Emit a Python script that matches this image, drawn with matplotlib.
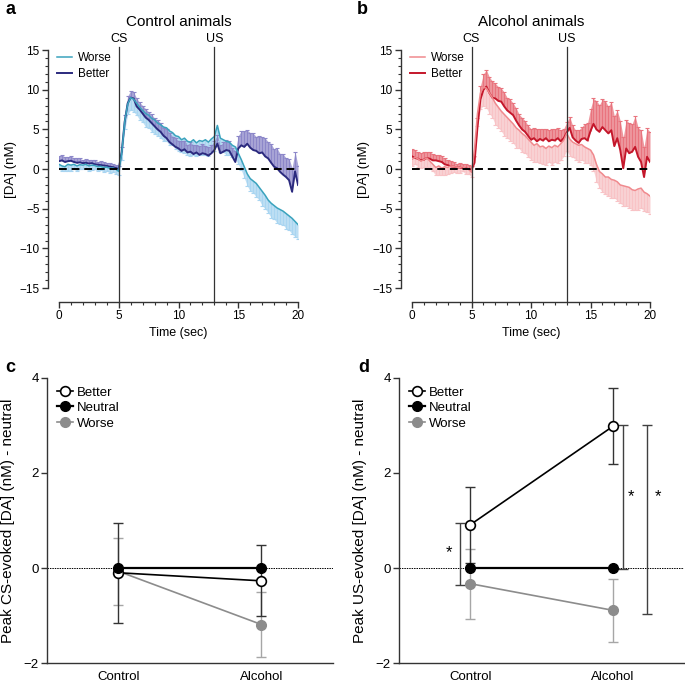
"""
Dopamine traces (Control / Alcohol animals) and peak CS / US evoked [DA]
relative to neutral trials.
"""

import numpy as np
import matplotlib
matplotlib.use("Agg")
import matplotlib.pyplot as plt

plt.rcParams["font.family"] = ["Liberation Sans", "DejaVu Sans"]

# ---- time course data (0.25 s bins, 0..20 s) ----
t = np.arange(81) * 0.25

ctrl_worse = [
    0.6, 0.4, 0.3, 0.6, 0.5, 0.6, 0.4, 0.55, 0.5, 0.6,
    0.4, 0.5, 0.45, 0.3, 0.35, 0.2, 0.25, 0.1, 0.15, 0.0,
    -0.3, 2.0, 6.0, 8.2, 9.0, 8.8, 8.3, 7.8, 7.4, 7.0,
    6.8, 6.4, 6.2, 5.8, 5.6, 5.3, 5.2, 4.8, 4.6, 4.2,
    4.1, 3.7, 3.9, 3.5, 3.4, 3.7, 3.3, 3.6, 3.5, 3.7,
    3.4, 3.8, 4.1, 5.5, 3.9, 3.7, 3.5, 3.4, 3.0, 2.8,
    2.0, 1.2, 0.3, -0.6, -1.2, -1.5, -1.8, -2.3, -2.8, -3.3,
    -3.9, -4.3, -4.6, -4.9, -5.1, -5.3, -5.6, -5.9, -6.2, -6.6,
    -7.0]
ctrl_worse_err = [
    0.6, 0.7, 0.6, 0.8, 0.7, 0.6, 0.7, 0.6, 0.5, 0.6,
    0.7, 0.6, 0.5, 0.6, 0.5, 0.6, 0.5, 0.6, 0.5, 0.6,
    0.5, 0.8, 1.0, 1.3, 1.5, 1.6, 1.5, 1.6, 1.5, 1.7,
    1.6, 1.7, 1.8, 1.6, 1.7, 1.8, 1.7, 1.8, 1.6, 1.7,
    1.8, 1.6, 1.9, 1.7, 1.8, 1.9, 1.7, 1.8, 1.7, 1.9,
    1.8, 1.7, 1.8, 1.9, 1.7, 1.6, 1.7, 1.6, 1.5, 1.5,
    1.4, 1.3, 1.4, 1.5, 1.6, 1.5, 1.7, 1.6, 1.8, 1.7,
    1.6, 1.8, 1.7, 1.9, 1.8, 1.7, 1.9, 1.8, 2.0, 1.9,
    1.8]
ctrl_better = [
    1.0, 1.1, 0.9, 1.0, 1.05, 0.9, 0.8, 0.85, 0.75, 0.8,
    0.7, 0.75, 0.6, 0.55, 0.5, 0.45, 0.4, 0.3, 0.25, 0.15,
    0.0, 2.2, 6.0, 8.3, 9.0, 8.9, 7.9, 7.5, 7.0, 6.5,
    6.2, 5.8, 5.4, 5.0, 4.7, 4.2, 3.9, 3.4, 3.1, 2.8,
    2.6, 2.3, 2.5, 2.1, 2.2, 1.9, 2.1, 1.8, 2.0, 1.9,
    1.7, 2.0, 2.4, 3.2, 2.0, 2.2, 2.4, 2.3, 1.6, 0.9,
    2.6, 3.0, 2.8, 3.2, 2.7, 2.4, 2.3, 2.0, 2.1, 1.6,
    1.35, 0.8, 0.3, 0.1, -0.35, -0.7, -1.0, -1.4, -2.85, -0.3,
    -2.0]
ctrl_better_err = [
    0.6, 0.7, 0.6, 0.5, 0.6, 0.5, 0.6, 0.5, 0.4, 0.5,
    0.5, 0.4, 0.5, 0.4, 0.5, 0.4, 0.4, 0.5, 0.4, 0.4,
    0.4, 0.6, 0.8, 0.9, 0.9, 0.8, 1.0, 0.9, 1.0, 1.1,
    1.0, 1.1, 1.0, 1.2, 1.1, 1.0, 1.1, 1.2, 1.0, 1.1,
    1.0, 1.2, 1.1, 1.0, 1.2, 1.1, 1.0, 1.1, 1.2, 1.0,
    1.1, 1.0, 1.2, 1.1, 1.0, 1.2, 1.3, 1.2, 1.1, 1.4,
    1.6, 1.8, 2.0, 1.7, 1.9, 2.1, 1.8, 2.2, 2.0, 2.3,
    2.1, 2.4, 2.2, 2.5, 2.3, 2.6, 2.4, 2.7, 3.0, 2.5,
    2.4]

alc_worse = [
    1.2, 1.5, 1.3, 1.0, 1.2, 1.4, 1.0, 0.6, 0.2, 0.4,
    0.1, 0.3, 0.2, 0.4, 0.3, 0.25, 0.2, 0.3, 0.1, 0.0,
    -0.4, 2.5, 7.0, 9.6, 10.3, 10.2, 9.6, 9.0, 8.3, 7.8,
    7.3, 6.9, 6.5, 6.1, 5.7, 5.2, 4.9, 4.5, 4.2, 3.8,
    3.4, 3.0, 3.2, 2.8, 2.9, 2.6, 2.9, 2.7, 3.0, 2.8,
    3.2, 3.6, 4.5, 3.8, 3.4, 3.2, 3.0, 3.1, 2.8, 2.6,
    2.4, 1.8, 0.6, -0.3, -0.6, -1.0, -1.0, -1.3, -1.4, -1.6,
    -2.0, -2.1, -2.2, -2.3, -2.6, -2.7, -2.5, -2.4, -2.9, -3.1,
    -3.4]
alc_worse_err = [
    0.8, 0.9, 1.0, 0.8, 0.9, 1.1, 1.0, 0.9, 1.0, 1.1,
    0.9, 1.0, 0.8, 0.9, 0.7, 0.8, 0.7, 0.6, 0.7, 0.6,
    0.6, 1.0, 1.6, 2.0, 2.3, 2.5, 2.6, 2.5, 2.7, 2.6,
    2.5, 2.7, 2.6, 2.5, 2.4, 2.5, 2.3, 2.4, 2.2, 2.3,
    2.2, 2.1, 2.3, 2.0, 2.2, 2.1, 2.0, 2.2, 2.1, 2.0,
    2.1, 2.0, 2.2, 2.1, 1.9, 2.0, 2.1, 1.9, 2.0, 1.8,
    1.9, 2.0, 2.2, 2.1, 2.3, 2.2, 2.4, 2.3, 2.2, 2.4,
    2.3, 2.5, 2.4, 2.6, 2.5, 2.4, 2.6, 2.5, 2.4, 2.3,
    2.2]
alc_better = [
    1.6, 1.4, 1.3, 1.1, 1.2, 1.4, 1.3, 1.1, 1.1, 1.0,
    0.9, 0.6, 0.5, 0.35, 0.3, 0.2, 0.2, 0.15, 0.1, 0.0,
    -0.1, 0.8, 5.3, 8.8, 10.0, 10.4, 9.6, 9.0, 8.9, 8.6,
    8.5, 7.9, 7.4, 7.1, 6.8, 6.1, 5.5, 5.0, 4.7, 4.2,
    3.7, 3.9, 3.5, 3.8, 3.6, 3.9, 3.5, 3.7, 3.6, 3.9,
    3.5, 3.9, 4.6, 5.2, 4.0, 3.6, 3.3, 3.8, 3.9, 3.6,
    4.8, 5.7, 5.0, 4.7, 5.3, 4.9, 4.5, 4.9, 2.9, 3.9,
    2.4, 0.1, 2.6, 2.0, 2.2, 2.8, 1.55, 0.9, -1.0, 1.55,
    0.9]
alc_better_err = [
    0.9, 1.0, 0.8, 0.9, 1.0, 0.8, 0.9, 0.8, 0.7, 0.8,
    0.7, 0.8, 0.6, 0.7, 0.6, 0.5, 0.6, 0.5, 0.6, 0.5,
    0.5, 0.8, 1.2, 1.7, 2.0, 2.1, 2.0, 2.1, 1.9, 1.8,
    1.7, 1.8, 1.6, 1.7, 1.5, 1.6, 1.4, 1.5, 1.4, 1.3,
    1.4, 1.3, 1.5, 1.3, 1.4, 1.2, 1.4, 1.3, 1.5, 1.3,
    1.4, 1.2, 1.3, 1.4, 1.5, 1.3, 1.6, 1.5, 1.8, 2.2,
    2.8, 3.2, 3.6, 3.4, 3.5, 3.7, 3.4, 3.6, 3.8, 3.5,
    3.7, 3.9, 3.6, 3.8, 3.5, 3.9, 3.7, 4.0, 3.8, 3.6,
    3.8]

cs_time = 5
us_time = 13

# ---- peak evoked [DA] minus neutral ----
groups = ["Control", "Alcohol"]
cs_better = [-0.10, -0.27]
cs_better_sem = [1.05, 0.75]
cs_neutral = [0.0, 0.0]
cs_worse = [-0.07, -1.19]
cs_worse_sem = [0.70, 0.69]

us_better = [0.91, 2.98]
us_better_sem = [0.80, 0.80]
us_neutral = [0.0, 0.0]
us_worse = [-0.33, -0.89]
us_worse_sem = [0.74, 0.66]

# significance brackets on panel d (x position, low, high)
sig_x = [-0.07, 1.07, 1.24]
sig_lo = [-0.35, -0.02, -0.96]
sig_hi = [0.95, 3.02, 3.02]
star_x = [-0.15, 1.13, 1.32]
star_y = [0.32, 1.5, 1.5]

AXIS_COLOR = "#333333"


def style_trace_axes(ax):
    ax.set_xlim(0, 20)
    ax.set_ylim(-15, 15)
    for side in ["top", "right"]:
        ax.spines[side].set_visible(False)
    ax.spines["left"].set_position(("outward", 8))
    ax.spines["bottom"].set_position(("outward", 10))
    for side in ["left", "bottom"]:
        ax.spines[side].set_color(AXIS_COLOR)
        ax.spines[side].set_linewidth(1.0)
    ax.set_xticks([0, 5, 10, 15, 20])
    ax.set_xticks(np.arange(0, 21, 1), minor=True)
    ax.set_yticks([-15, -10, -5, 0, 5, 10, 15])
    ax.set_yticks(np.arange(-15, 16, 1), minor=True)
    ax.tick_params(which="major", length=4, width=1, color=AXIS_COLOR,
                   labelsize=8.5, pad=2)
    ax.tick_params(which="minor", length=2.5, width=0.8, color=AXIS_COLOR)
    ax.set_xlabel("Time (sec)", fontsize=9, labelpad=3)
    ax.set_ylabel("[DA] (nM)", fontsize=9.5, labelpad=2)


def draw_band(ax, y, err, color, downward):
    y = np.asarray(y)
    err = np.asarray(err)
    tip = y - err if downward else y + err
    ax.fill_between(t, y, tip, color=color, lw=0, alpha=0.75)
    ax.vlines(t, y, tip, color=color, lw=0.8)
    ax.plot(t, tip, ls="none", marker="_", ms=3.5, mew=0.8, color=color)


def trace_panel(ax, worse, worse_err, better, better_err, cols, title):
    worse_line, worse_bar, better_line, better_bar = cols
    draw_band(ax, worse, worse_err, worse_bar, downward=True)
    draw_band(ax, better, better_err, better_bar, downward=False)
    ax.plot(t, better, color=better_line, lw=1.4, label="Better", zorder=4)
    ax.plot(t, worse, color=worse_line, lw=1.1, label="Worse", zorder=5)

    ax.plot([0, 20], [0, 0], color="black", lw=1.4, ls=(0, (4, 2.5)), zorder=6)
    for xv, lab in [(cs_time, "CS"), (us_time, "US")]:
        ax.axvline(xv, ymin=-0.06, ymax=1.015, color=AXIS_COLOR, lw=0.9,
                   clip_on=False, zorder=7)
        ax.annotate(lab, xy=(xv, 1.0), xycoords=("data", "axes fraction"),
                    xytext=(0, 4), textcoords="offset points",
                    ha="center", va="bottom", fontsize=9)
    ax.set_title(title, fontsize=11, pad=17)

    handles, labels = ax.get_legend_handles_labels()
    ax.legend(handles[::-1], labels[::-1], loc="upper left",
              bbox_to_anchor=(-0.02, 1.0), frameon=False, fontsize=8.5,
              handlelength=1.3, handletextpad=0.5, labelspacing=0.3,
              borderaxespad=0.0, borderpad=0.2)
    style_trace_axes(ax)


def peak_panel(ax, better, better_sem, neutral, worse, worse_sem, ylabel):
    x = np.arange(len(groups))
    ax.axhline(0, color="black", lw=0.7, ls=(0, (1.5, 1)), zorder=1)
    ax.errorbar(x, worse, yerr=worse_sem, fmt="none", ecolor="#a6a6a6",
                elinewidth=1.0, capsize=3.5, capthick=1.0, zorder=2)
    ax.errorbar(x, better, yerr=better_sem, fmt="none", ecolor="#333333",
                elinewidth=1.0, capsize=3.5, capthick=1.0, zorder=2)
    ax.plot(x, worse, color="#8c8c8c", lw=1.2, marker="o", ms=7,
            mfc="#8c8c8c", mec="#8c8c8c", label="Worse", zorder=3)
    ax.plot(x, better, color="black", lw=1.2, marker="o", ms=7,
            mfc="white", mec="black", mew=1.2, label="Better", zorder=4)
    ax.plot(x, neutral, color="black", lw=1.6, marker="o", ms=7,
            mfc="black", mec="black", label="Neutral", zorder=5)

    ax.set_xlim(-0.5, 1.5)
    ax.set_ylim(-2, 4)
    ax.set_xticks(x)
    ax.set_xticklabels(groups)
    ax.set_yticks([-2, 0, 2, 4])
    for side in ["top", "right"]:
        ax.spines[side].set_visible(False)
    for side in ["left", "bottom"]:
        ax.spines[side].set_color(AXIS_COLOR)
        ax.spines[side].set_linewidth(1.0)
    ax.tick_params(axis="y", length=4, width=1, color=AXIS_COLOR,
                   labelsize=9.5, pad=2)
    ax.tick_params(axis="x", length=0, labelsize=9.5, pad=6)
    ax.set_ylabel(ylabel, fontsize=11, labelpad=6)

    handles, labels = ax.get_legend_handles_labels()
    order = [labels.index(n) for n in ["Better", "Neutral", "Worse"]]
    ax.legend([handles[i] for i in order], [labels[i] for i in order],
              loc="upper left", bbox_to_anchor=(0.025, 0.98), frameon=False,
              fontsize=9.5, handlelength=1.2, handletextpad=0.35,
              labelspacing=0.25, borderaxespad=0.0, borderpad=0.2)


fig = plt.figure(figsize=(6.85, 6.86), dpi=100)

ax_a = fig.add_axes([0.0861, 0.580, 0.349, 0.347])
ax_b = fig.add_axes([0.6015, 0.580, 0.3474, 0.347])
ax_c = fig.add_axes([0.0686, 0.0335, 0.4175, 0.4155])
ax_d = fig.add_axes([0.5825, 0.0335, 0.416, 0.4155])

trace_panel(ax_a, ctrl_worse, ctrl_worse_err, ctrl_better, ctrl_better_err,
            ("#3aa3bd", "#a9d5f1", "#2b2a7e", "#8c87c9"), "Control animals")
trace_panel(ax_b, alc_worse, alc_worse_err, alc_better, alc_better_err,
            ("#f08a8e", "#f8c3c6", "#c4172b", "#e9747e"), "Alcohol animals")

peak_panel(ax_c, cs_better, cs_better_sem, cs_neutral, cs_worse, cs_worse_sem,
           "Peak CS-evoked [DA] (nM) - neutral")
peak_panel(ax_d, us_better, us_better_sem, us_neutral, us_worse, us_worse_sem,
           "Peak US-evoked [DA] (nM) - neutral")

# significance brackets
for xv, lo, hi in zip(sig_x, sig_lo, sig_hi):
    ax_d.errorbar([xv], [(lo + hi) / 2], yerr=[(hi - lo) / 2], fmt="none",
                  ecolor="#404040", elinewidth=1.0, capsize=3.5, capthick=1.0,
                  clip_on=False)
for xv, yv in zip(star_x, star_y):
    ax_d.text(xv, yv, "*", ha="center", va="center", fontsize=12)

for letter, (xp, yp) in zip("abcd", [(5, 10), (357, 10), (5, 368), (358, 368)]):
    fig.text(xp / 685, 1 - yp / 686, letter, fontsize=13, fontweight="bold",
             ha="left", va="center")

fig.savefig("out.png", dpi=100, facecolor="white")
